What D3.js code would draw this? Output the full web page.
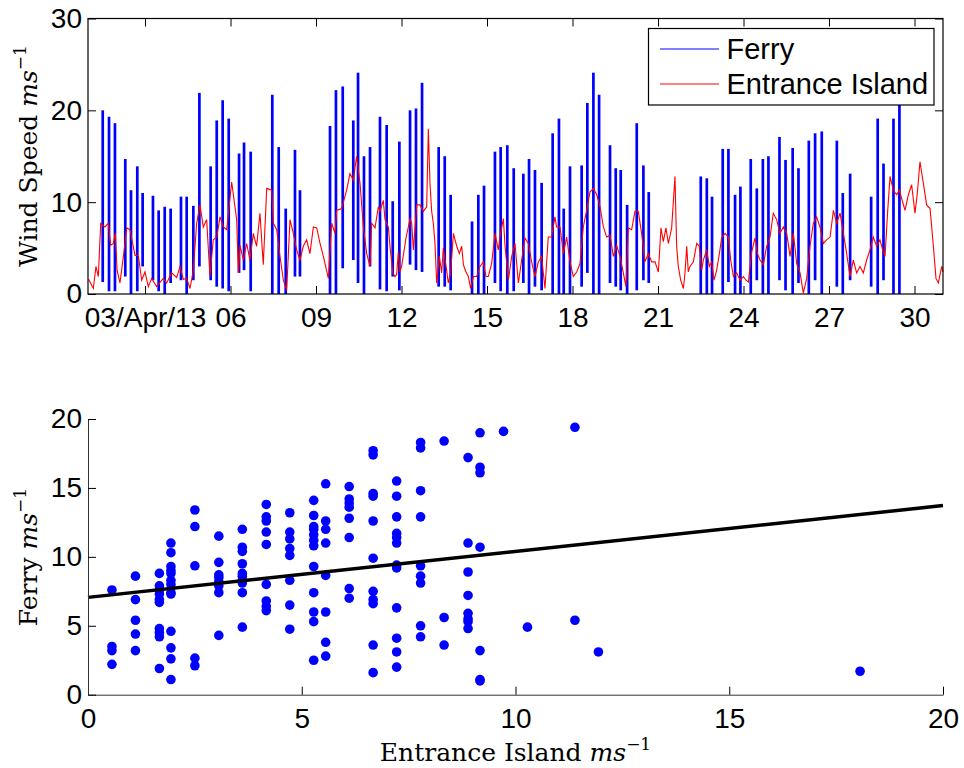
<!DOCTYPE html>
<html>
<head>
<meta charset="utf-8">
<script src="https://cdn.jsdelivr.net/npm/d3@7"></script>
<style>
body { margin: 0; background: #fff; }
.lab { font-family: "DejaVu Serif", "Liberation Serif", serif; font-size: 25px; }
</style>
</head>
<body>
<svg id="fig" width="964" height="768"></svg>
<script>
// ---- data: time series (hours since 01/Apr/2013 00:00) ----
var tickDays = [3, 6, 9, 12, 15, 18, 21, 24, 27, 30];
var tickLabels = ['03/Apr/13', '06', '09', '12', '15', '18', '21', '24', '27', '30'];

// ferry crossings: [hour, low, high]
var ferry = [
    [12.4, 1.3, 20.0], [17.7, 0.3, 19.3], [22.7, 0.3, 18.6], [31.4, 1.9, 14.7], [36.2, 0, 11.3],
    [41.5, 0.3, 13.9], [46.0, 3.0, 11.0], [54.7, 1.5, 10.7], [59.5, 0.3, 9.1], [64.6, 0, 9.5],
    [69.6, 1.2, 9.3], [78.3, 1.5, 10.6], [83.1, 0, 10.6], [88.7, 1.5, 9.6], [93.8, 3.0, 21.9],
    [103.3, 1.5, 13.9], [108.4, 0.8, 18.9], [113.4, 0.6, 21.1], [118.5, 0.3, 19.1], [127.2, 2.3, 15.3],
    [131.4, 2.6, 16.5], [137.0, 0.3, 15.5], [155.2, 0, 21.7], [160.6, 0, 16.0], [166.5, 0, 9.3],
    [174.3, 1.9, 15.7], [178.5, 1.9, 11.3], [203.8, 0, 18.3], [208.8, 0, 22.2], [214.5, 2.8, 22.6],
    [223.4, 3.7, 18.9], [227.4, 1.2, 24.1], [232.4, 0, 15.0], [237.5, 3.0, 16.0],
    [245.9, 0.5, 19.3], [251.5, 0.3, 18.4], [256.6, 1.9, 10.1], [262.2, 0.4, 16.6], [271.2, 3.2, 20.0],
    [276.2, 2.6, 20.2], [281.3, 2.4, 23.0], [295.3, 0.8, 16.0], [300.4, 0.8, 15.0], [305.4, 0.4, 10.8],
    [323.4, 0, 7.9], [328.7, 0, 10.8], [333.5, 0, 11.8], [342.7, 1.2, 15.5], [347.5, 0.3, 16.0],
    [353.1, 0, 16.2], [358.5, 0.3, 13.7], [366.6, 1.2, 13.1], [371.4, 0, 14.7], [376.4, 0.8, 13.5],
    [382.0, 0.4, 12.1], [391.3, 0, 17.5], [396.6, 0, 19.1], [400.6, 0, 9.3], [405.9, 0, 13.9],
    [415.7, 0.8, 14.0], [420.5, 2.3, 20.8], [425.6, 0, 24.1], [430.4, 0, 21.7], [439.6, 1.2, 16.2],
    [444.4, 0.8, 13.7], [448.6, 0.4, 13.5], [454.0, 0, 9.7], [462.1, 0.4, 18.6], [467.7, 1.5, 14.0],
    [472.2, 1.2, 11.1],
    [516.0, 0, 12.8], [521.1, 0, 12.6], [525.5, 0, 10.6], [534.5, 0, 15.8], [539.3, 1.3, 15.8],
    [544.9, 0, 10.8], [549.4, 0, 11.7], [558.1, 0, 14.7], [563.2, 1.5, 11.5], [568.3, 0, 14.7],
    [573.0, 0, 15.0], [582.3, 1.5, 17.1], [587.4, 0.4, 14.6], [593.4, 0, 15.9], [598.3, 1.2, 13.7],
    [607.0, 0, 16.7], [612.3, 1.5, 17.5], [617.9, 0, 17.7], [630.6, 0.8, 16.7], [635.6, 0, 11.0],
    [641.8, 1.5, 13.1], [659.5, 0.8, 10.6], [665.0, 0, 19.1], [669.9, 1.5, 14.2], [678.3, 0, 19.1],
    [683.3, 0, 22.0]
];

// Entrance Island: [hour, speed]
var entrance = [
    [0.5, 1.6], [4.5, 0.6], [6.7, 3.0], [8.7, 1.9], [10.7, 7.7], [14.3, 7.3], [17.1, 7.7], [19.1, 5.3],
    [21.3, 5.5], [23, 6.6], [24.5, 2.6], [26.9, 1.2], [29.8, 4.1], [32.6, 7.2], [35.4, 7.0], [37.6, 5.5],
    [39.6, 4.2], [42.4, 4.2], [45.2, 1.5], [48, 2.4], [50.8, 0.8], [53.6, 1.7], [57.8, 0.8], [63.4, 1.7],
    [66.2, 1.2], [70.5, 2.3], [74.7, 1.8], [77.5, 3.0], [80.3, 1.6], [83.1, 1.7], [85.9, 0.6], [88.7, 2.6],
    [91.5, 7.7], [94.3, 9.7], [97.1, 7.3], [99.9, 8.1], [102.7, 1.9], [105.5, 5.9], [108.4, 6.2], [111.2, 8.4],
    [114, 7.3], [116.8, 7.0], [121, 12.2], [125.2, 8.1], [126.6, 2.3], [128, 5.3], [130.8, 3.7], [133.6, 5.5],
    [136.4, 3.7], [139.2, 6.6], [142, 5.2], [144.8, 8.8], [147.6, 3.2], [150.5, 11.5], [154.7, 11.3], [156.1, 7.7],
    [158.9, 7.0], [161.7, 4.1], [164.5, 1.5], [167.3, 0.4], [170.1, 8.1], [172.9, 6.6], [175.7, 4.8], [178.5, 3.7],
    [181.3, 5.2], [184.1, 5.9], [186.9, 4.4], [189.8, 7.3], [192.6, 7.2], [195.4, 5.5], [198.2, 4.1], [202.4, 1.7],
    [205.2, 7.7], [208, 6.6], [209.4, 9.1], [213.6, 9.3], [217.8, 11.3], [220.6, 13.1], [223.4, 12.4], [226.2, 15.0],
    [229.1, 12.0], [231.9, 7.3], [234.7, 4.4], [237.5, 3.0], [238.9, 7.7], [241.7, 7.2], [244.5, 9.5],
    [245.9, 9.0], [248.7, 10.2], [250.1, 8.1], [252.9, 7.3], [254.3, 5.2], [256.6, 2.3], [258.5, 1.9], [259.9, 2.1],
    [261.3, 4.6], [262.7, 2.4], [264.1, 3.0], [267.8, 6.1], [271.2, 8.2], [272.6, 7.7], [274, 4.8], [276.8, 9.7],
    [279.6, 9.7], [282.4, 9.0], [285.2, 9.5], [286.6, 18.0], [288, 12.0], [289.4, 9.0], [290.8, 7.7], [292.2, 5.5],
    [293.6, 1.2], [295.9, 4.1], [297.8, 2.3], [299.2, 5.0], [302, 2.6], [303.4, 1.2], [305.4, 2.3], [307.7, 6.6],
    [310.5, 5.2], [312.7, 4.4], [314.7, 5.2], [316.1, 3.2], [318.3, 2.4], [320.3, 1.9], [322.2, 0.6], [324.5, 1.9],
    [327.3, 1.9], [330.1, 3.0], [332.9, 3.5], [335.1, 1.9], [337.1, 1.9], [339.9, 3.3], [342.7, 6.6], [345.5, 4.8],
    [346.9, 6.2], [349.8, 8.2], [351.2, 5.2], [354, 1.5], [356.8, 4.1], [359.6, 5.5], [362.4, 1.2], [365.2, 3.7],
    [368, 6.1], [370.8, 5.5], [373.6, 3.5], [376.4, 1.9], [379.2, 3.5], [382, 4.1], [384.8, 0.6], [387.6, 6.2],
    [390.4, 6.2], [393.2, 8.4], [394.6, 7.3], [397.5, 7.3], [400.3, 4.4], [403.1, 6.2], [405.9, 3.5], [408.7, 1.9],
    [411.5, 2.4], [414.3, 3.3], [417.1, 7.3], [419.9, 9.1], [422.7, 11.1], [425.6, 11.5], [428.4, 10.8], [431.2, 9.5],
    [434, 7.3], [436.8, 6.2], [439.6, 6.4], [442.4, 4.1], [445.2, 5.3], [448, 4.1], [450.8, 2.3], [453, 0.8],
    [455, 7.2], [457.8, 7.0], [460.6, 9.0], [463.4, 9.0], [466.2, 6.6], [469, 3.5], [471.8, 4.4], [474.7, 3.5],
    [477.5, 3.5], [480.3, 2.4], [482.5, 7.2], [484.5, 5.7], [486.7, 7.2], [488.7, 5.5], [491.5, 7.2],
    [494.3, 12.8], [495.7, 5.2], [497.1, 3.0], [499.1, 1.5], [501.4, 0.6], [502.8, 2.4], [504.2, 5.2], [505.5, 2.4],
    [506.9, 3.0], [509.8, 3.5], [512.6, 5.5], [514.8, 5.2], [516.8, 2.6], [518.2, 3.7], [521, 4.8], [523.2, 3.0],
    [525.2, 3.5], [527.2, 1.5], [529.4, 2.6], [531.7, 4.4], [533.6, 6.1], [536.5, 6.6], [539.3, 6.2], [541.2, 3.7],
    [543.5, 1.9], [546.3, 2.3], [549.1, 1.5], [551.9, 1.9], [554.1, 1.5], [556.1, 1.3], [558.9, 4.6], [561.7, 6.1],
    [563.7, 4.4], [565.9, 3.7], [568.7, 3.2], [571.5, 5.2], [574.3, 6.2], [577.1, 8.8], [579.9, 8.1], [582.7, 6.6],
    [585.5, 7.3], [588.4, 6.6], [591.2, 4.1], [594, 6.6], [596.8, 3.3], [599.6, 2.3], [602.4, 0.1], [605.2, 1.7],
    [608, 5.2], [610.8, 7.7], [613.6, 8.4], [616.4, 7.3], [619.2, 5.5], [622, 5.9], [624.9, 6.2], [627.7, 9.1],
    [630.5, 7.7], [633.3, 8.8], [636.1, 6.6], [638.9, 4.4], [641.7, 1.9], [644.5, 3.7], [647.3, 2.3], [650.1, 3.0],
    [652.9, 2.3], [655.7, 3.7], [658.5, 4.8], [661.3, 6.2], [664.1, 5.2], [666.9, 5.9], [669.2, 4.8], [671.2, 4.1],
    [673.4, 9.0], [675.4, 12.8], [678.2, 11.3], [681, 10.8], [683.2, 11.3], [685.2, 10.4], [688, 9.1], [690.8, 10.8],
    [693.6, 11.9], [696.4, 8.8], [698.4, 11.0], [700.6, 14.4], [703.4, 12.1], [706.2, 9.7], [709.1, 9.3], [711.9, 5.2],
    [714.1, 1.7], [716.1, 1.2], [718.9, 3.0], [720, 2.4]
];

// ---- data: scatter, Entrance Island columns and Ferry values in each ----
var scatterEI = [0.56, 1.11, 1.67, 1.94, 2.5, 3.06, 3.61, 4.17, 4.72, 5.28, 5.56, 6.11,
    6.67, 7.22, 7.78, 8.33, 8.89, 9.17, 9.72, 10.28, 11.39, 11.94, 18.06];
var scatterFerry = [
    [7.6, 3.5, 3.2, 2.2],
    [8.6, 6.9, 5.4, 4.4, 3.2],
    [8.8, 7.9, 7.6, 7.3, 6.9, 6.7, 4.8, 4.5, 4.2, 1.9],
    [11.0, 10.3, 9.3, 9.0, 8.8, 8.3, 8.0, 7.4, 7.3, 4.6, 3.4, 2.6, 1.1],
    [13.4, 12.2, 9.35, 2.65, 2.1],
    [11.5, 9.6, 8.7, 8.5, 8.2, 7.9, 7.4, 4.3],
    [12.0, 10.7, 10.4, 9.5, 8.8, 8.6, 8.3, 8.1, 7.4, 4.9],
    [13.8, 12.9, 12.6, 11.8, 10.9, 8.0, 6.8, 6.4, 6.1],
    [13.2, 11.8, 11.3, 10.6, 10.1, 8.3, 6.5, 4.75],
    [14.1, 13.0, 12.2, 12.0, 11.6, 11.2, 10.8, 9.3, 7.4, 6.0, 5.3, 2.5],
    [15.3, 12.6, 12.0, 11.0, 8.65, 6.0, 3.8, 2.8],
    [15.1, 14.2, 13.9, 13.6, 12.8, 11.4, 7.7, 7.0],
    [17.7, 17.4, 14.6, 14.4, 12.6, 9.9, 7.5, 6.9, 6.6, 3.6, 1.6],
    [15.5, 14.4, 12.9, 11.7, 11.4, 11.0, 9.4, 9.2, 6.3, 4.1, 3.1, 2.0],
    [18.3, 17.9, 14.8, 12.9, 9.35, 8.6, 8.1, 5.0, 4.2],
    [18.4, 5.6, 3.6],
    [17.2, 11.0, 8.9, 7.2, 5.9, 5.5, 5.3, 4.8],
    [19.0, 16.5, 16.1, 10.7, 3.2, 1.1, 1.0],
    [19.1],
    [4.9],
    [19.4, 5.4],
    [3.1],
    [1.7]
];
var fitIntercept = 7.06;
var fitSlope = 0.333;
var scatterTicks = [0, 5, 10, 15, 20];

var svg = d3.select('#fig');
var sansFont = '"Liberation Sans", Arial, Helvetica, sans-serif';

var start = new Date(2013, 3, 1);
function atHour(h) { return new Date(start.getTime() + h * 3600e3); }

function styleAxis(g) {
    g.attr('font-size', 28).attr('font-family', sansFont);
    g.selectAll('.tick text').attr('fill', '#000');
    g.selectAll('.tick line').attr('stroke', '#000');
}

// ================= top panel: time series =================
var xT = d3.scaleTime().domain([start, new Date(2013, 4, 1)]).range([88, 943]);
var yT = d3.scaleLinear().domain([0, 30]).range([294, 18.5]);

var topPanel = svg.append('g');

// ferry bars
var bar = d3.line().x(function (d) { return xT(atHour(d[0])); }).y(function (d) { return yT(d[1]); });
topPanel.selectAll('path.ferry').data(ferry).enter().append('path')
    .attr('class', 'ferry')
    .attr('d', function (d) { return bar([[d[0], d[1]], [d[0], d[2]]]); })
    .attr('stroke', '#0000ff')
    .attr('stroke-width', 2.7)
    .attr('fill', 'none');

// entrance island line
topPanel.append('path')
    .datum(entrance)
    .attr('d', d3.line().x(function (d) { return xT(atHour(d[0])); }).y(function (d) { return yT(d[1]); }))
    .attr('stroke', '#ff0000')
    .attr('stroke-width', 1.1)
    .attr('fill', 'none');

var tickDates = tickDays.map(function (d) { return new Date(2013, 3, d); });
topPanel.append('g').attr('transform', 'translate(0,294)')
    .call(d3.axisBottom(xT).tickValues(tickDates)
        .tickFormat(function (d, i) { return tickLabels[i]; })
        .tickSize(-8).tickSizeOuter(0).tickPadding(13))
    .call(styleAxis)
    .call(function (g) { g.select('.domain').remove(); });
topPanel.append('g').attr('transform', 'translate(0,18.5)')
    .call(d3.axisTop(xT).tickValues(tickDates).tickFormat('').tickSize(-8).tickSizeOuter(0))
    .call(styleAxis)
    .call(function (g) { g.select('.domain').remove(); });
topPanel.append('g').attr('transform', 'translate(88,0)')
    .call(d3.axisLeft(yT).tickValues([0, 10, 20, 30]).tickSize(-8).tickSizeOuter(0).tickPadding(6))
    .call(styleAxis)
    .call(function (g) { g.select('.domain').remove(); });
topPanel.append('g').attr('transform', 'translate(943,0)')
    .call(d3.axisRight(yT).tickValues([0, 10, 20, 30]).tickFormat('').tickSize(-8).tickSizeOuter(0))
    .call(styleAxis)
    .call(function (g) { g.select('.domain').remove(); });

topPanel.append('rect')
    .attr('x', 88).attr('y', 18.5).attr('width', 855).attr('height', 275.5)
    .attr('fill', 'none').attr('stroke', '#000').attr('stroke-width', 1.2);

// legend
var leg = topPanel.append('g');
leg.append('rect').attr('x', 648.5).attr('y', 28.5).attr('width', 285.5).attr('height', 76.5)
    .attr('fill', '#fff').attr('stroke', '#000').attr('stroke-width', 1.2);
var legItems = [['Ferry', '#0000ff', 49, 58.5], ['Entrance Island', '#ff0000', 84, 94.3]];
legItems.forEach(function (it) {
    leg.append('line').attr('x1', 660).attr('x2', 719).attr('y1', it[2]).attr('y2', it[2])
        .attr('stroke', it[1]).attr('stroke-width', 1);
    leg.append('text').attr('x', 726.5).attr('y', it[3]).text(it[0])
        .attr('font-family', sansFont).attr('font-size', 29);
});

function unitLabel(g, txt) {
    g.append('tspan').text(txt);
    g.append('tspan').attr('font-style', 'italic').text('ms');
    g.append('tspan').attr('font-size', 17).attr('dy', -11).text('\u22121');
}

var yl1 = topPanel.append('text').attr('class', 'lab')
    .attr('transform', 'translate(36.5,156) rotate(-90)').attr('text-anchor', 'middle');
unitLabel(yl1, 'Wind Speed ');

// ================= bottom panel: scatter =================
var xS = d3.scaleLinear().domain([0, 20]).range([88, 943]);
var yS = d3.scaleLinear().domain([0, 20]).range([694.7, 419]);

var botPanel = svg.append('g');

var points = [];
scatterEI.forEach(function (x, i) {
    scatterFerry[i].forEach(function (y) { points.push([x, y]); });
});

botPanel.selectAll('circle').data(points).enter().append('circle')
    .attr('cx', function (d) { return xS(d[0]); })
    .attr('cy', function (d) { return yS(d[1]); })
    .attr('r', 4.8)
    .attr('fill', '#0000ff');

botPanel.append('path')
    .datum([0, 20])
    .attr('d', d3.line().x(function (d) { return xS(d); }).y(function (d) { return yS(fitIntercept + fitSlope * d); }))
    .attr('stroke', '#000').attr('stroke-width', 3.5).attr('fill', 'none');

botPanel.append('g').attr('transform', 'translate(0,694.7)')
    .call(d3.axisBottom(xS).tickValues(scatterTicks).tickSize(-8).tickSizeOuter(0).tickPadding(13))
    .call(styleAxis)
    .call(function (g) { g.select('.domain').attr('stroke', '#333'); });
botPanel.append('g').attr('transform', 'translate(88,0)')
    .call(d3.axisLeft(yS).tickValues(scatterTicks).tickSize(-8).tickSizeOuter(0).tickPadding(6))
    .call(styleAxis)
    .call(function (g) { g.select('.domain').attr('stroke', '#333'); });

var yl2 = botPanel.append('text').attr('class', 'lab')
    .attr('transform', 'translate(36.5,557) rotate(-90)').attr('text-anchor', 'middle');
unitLabel(yl2, 'Ferry ');

var xl = botPanel.append('text').attr('class', 'lab')
    .attr('x', 515.5).attr('y', 761).attr('text-anchor', 'middle');
unitLabel(xl, 'Entrance Island ');
</script>
</body>
</html>
